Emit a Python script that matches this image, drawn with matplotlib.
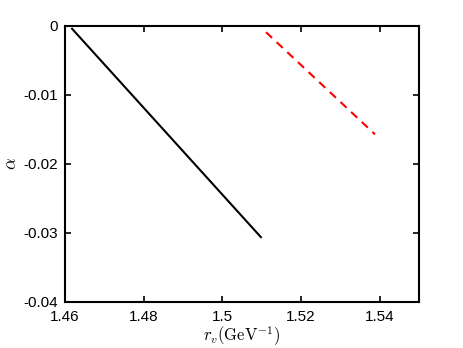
import matplotlib
matplotlib.use("Agg")
import matplotlib.pyplot as plt

plt.rcParams['font.family'] = ['Liberation Sans', 'DejaVu Sans']
plt.rcParams['mathtext.fontset'] = 'cm'

black_x = [1.4618, 1.5098]
black_y = [-0.0004, -0.0306]
red_x = [1.5111, 1.5388]
red_y = [-0.0009, -0.0157]

xticks = [1.46, 1.48, 1.50, 1.52, 1.54]
xticklabels = ['1.46', '1.48', '1.5', '1.52', '1.54']
yticks = [0, -0.01, -0.02, -0.03, -0.04]
yticklabels = ['0', '-0.01', '-0.02', '-0.03', '-0.04']

fig = plt.figure(figsize=(4.63, 3.48), dpi=100)
ax = fig.add_axes([0.1404, 0.1322, 0.7646, 0.7931])
ax.plot(black_x, black_y, color='black', lw=1.5)
ax.plot(red_x, red_y, color='red', lw=1.5, dashes=(4, 3))
ax.set_xlim(1.46, 1.55)
ax.set_ylim(-0.04, 0)
ax.set_xticks(xticks)
ax.set_xticklabels(xticklabels)
ax.set_yticks(yticks)
ax.set_yticklabels(yticklabels)
ax.tick_params(direction='in', top=True, right=True, length=4, width=1.2, labelsize=11)
ax.tick_params(axis='x', pad=6)
ax.tick_params(axis='y', pad=5)
for s in ax.spines.values():
    s.set_linewidth(1.5)
ax.set_xlabel(r'$r_v(\mathrm{GeV}^{-1})$', fontsize=12, labelpad=0)
ax.set_ylabel(r'$\alpha$', fontsize=13, labelpad=2)
fig.savefig('out.png', dpi=100)
